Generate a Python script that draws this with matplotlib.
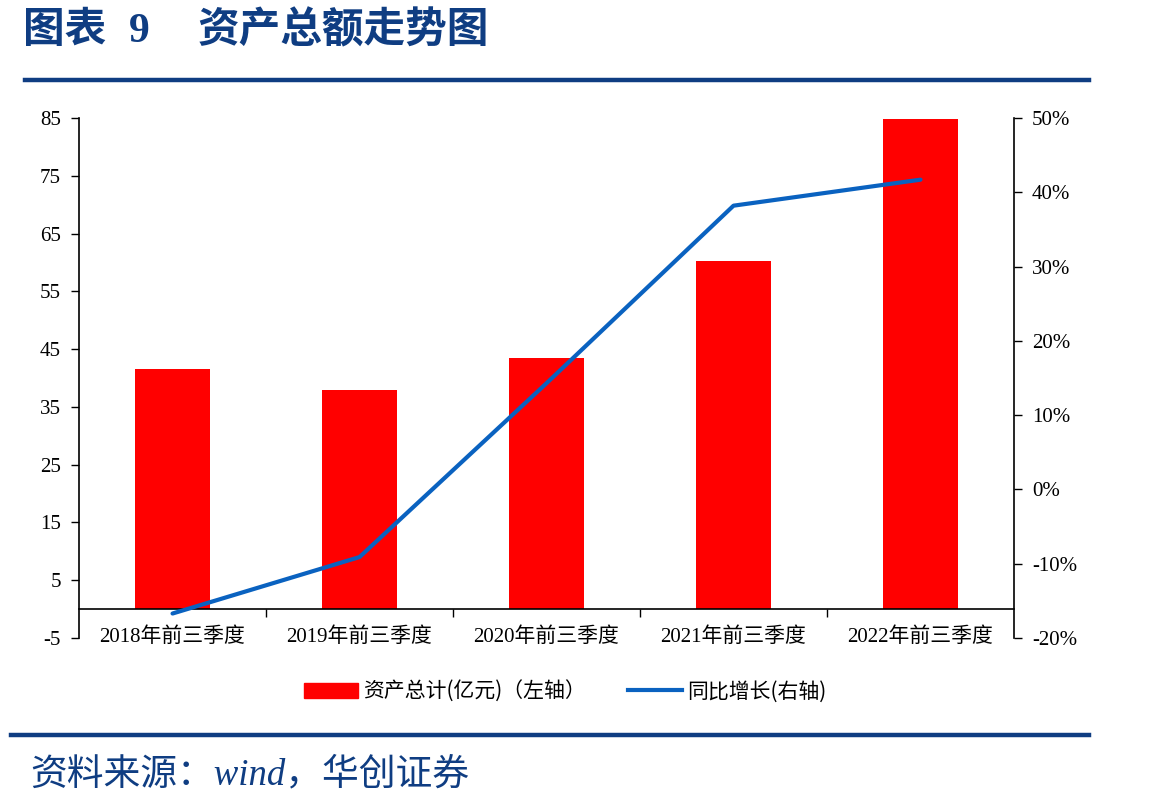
import matplotlib
matplotlib.use("Agg")
import matplotlib.pyplot as plt
from matplotlib.ticker import FixedLocator, FuncFormatter
from matplotlib.lines import Line2D
import matplotlib.patches as mpatches

plt.rcParams['font.family'] = ['Liberation Serif', 'Noto Sans CJK SC']
plt.rcParams['axes.unicode_minus'] = False

# data
periods = ['2018年前三季度', '2019年前三季度', '2020年前三季度', '2021年前三季度', '2022年前三季度']
total_assets = [41.5, 37.9, 43.5, 60.2, 84.8]      # 亿元, left axis
yoy_growth = [-16.7, -9.1, 14.3, 38.2, 41.7]        # %, right axis

BLUE_DARK = '#0f3d82'
RED = '#ff0000'
LINE_BLUE = '#0a62c0'
CJK = ['Liberation Serif', 'Noto Sans CJK SC']

fig = plt.figure(figsize=(11.49, 8.10), dpi=100)
ax = fig.add_axes([0.0688, 0.2123, 0.8137, 0.642])

x = range(len(periods))
ax.bar(x, total_assets, width=0.4, color=RED, zorder=2)
ax.set_xlim(-0.5, len(periods) - 0.5)
ax.set_ylim(-5, 85)
ax.set_yticks(range(-5, 86, 10))

# x axis sits on zero, tick marks between categories
ax.spines['top'].set_visible(False)
ax.spines['right'].set_visible(False)
ax.spines['bottom'].set_position(('data', 0))
ax.set_xticks(list(x))
ax.set_xticklabels(periods, fontsize=15)
ax.xaxis.set_minor_locator(FixedLocator([i + 0.5 for i in range(len(periods) - 1)]))
ax.tick_params(axis='x', which='major', length=0, pad=13)
ax.tick_params(axis='x', which='minor', length=6, width=1, direction='out')
ax.tick_params(axis='y', length=6, width=1, labelsize=15, pad=7)
for s in ['left', 'bottom']:
    ax.spines[s].set_linewidth(1.2)

ax2 = ax.twinx()
ax2.plot(list(x), yoy_growth, color=LINE_BLUE, lw=3, zorder=3, solid_capstyle='round')
ax2.set_ylim(-20, 50)
ax2.set_yticks(range(-20, 51, 10))
ax2.yaxis.set_major_formatter(FuncFormatter(lambda v, p: f'{v:.0f}%'))
ax2.spines['top'].set_visible(False)
ax2.spines['left'].set_visible(False)
ax2.spines['bottom'].set_visible(False)
ax2.spines['right'].set_linewidth(1.2)
ax2.tick_params(axis='y', length=6, width=1, labelsize=15, pad=7)

# legend
handles = [mpatches.Patch(color=RED, label='资产总计(亿元)（左轴）'),
           Line2D([], [], color=LINE_BLUE, lw=3, label='同比增长(右轴)')]
fig.legend(handles=handles, loc='center', bbox_to_anchor=(0.492, 0.146), ncol=2,
           frameon=False, handlelength=2.6, handletextpad=0.25,
           columnspacing=2.0, prop={'family': ['Noto Sans CJK SC'], 'size': 15})

# header, rules and source
title_kw = dict(fontsize=30, fontweight='bold', color=BLUE_DARK, va='center', ha='left', family=CJK)
fig.text(0.020, 0.961, '图表', **title_kw)
fig.text(0.112, 0.961, '9', **title_kw)
fig.text(0.172, 0.961, '资产总额走势图', **title_kw)
fig.add_artist(Line2D([0.022, 0.948], [0.901, 0.901], color=BLUE_DARK, lw=3.2))
fig.add_artist(Line2D([0.010, 0.948], [0.093, 0.093], color=BLUE_DARK, lw=3.2))
fig.text(0.026, 0.043, '资料来源：wind，华创证券', fontsize=26.5, color=BLUE_DARK,
         va='center', ha='left', style='italic', family=CJK)

plt.savefig('out.png', dpi=100)
